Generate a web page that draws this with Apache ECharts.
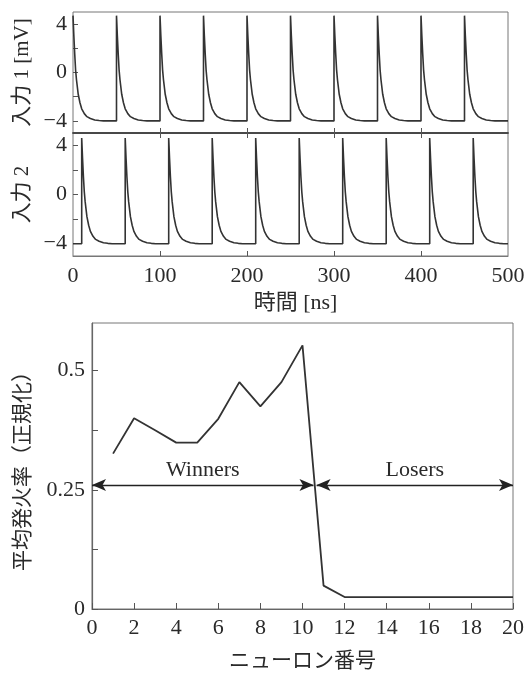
<!DOCTYPE html>
<html>
<head>
<meta charset="utf-8">
<script src="https://cdn.jsdelivr.net/npm/echarts@6/dist/echarts.min.js"></script>
<style>
  html, body { margin: 0; padding: 0; background: #fff; }
  #c1 { width: 529px; height: 673px; }
</style>
</head>
<body>
<div id="c1"></div>
<script>
// spike times [ns]
var spikes1 = [0, 50, 100, 150, 200, 250, 300, 350, 400, 450];
var spikes2 = [10, 60, 110, 160, 210, 260, 310, 360, 410, 460];
// shape of one decay after a spike (offset ns, mV)
var decayT = [0, 1, 2, 3, 4, 6, 8, 10, 13, 16, 20, 25, 30, 35];
var decay1 = [4.7, 3.0, 1.5, 0.2, -0.6, -1.8, -2.5, -3.0, -3.4, -3.65, -3.8, -3.92, -3.97, -4];
var decay2 = [4.6, 2.9, 1.4, 0.2, -0.6, -1.8, -2.5, -3.0, -3.4, -3.65, -3.8, -3.92, -3.97, -4];
var restLevel = -4;
var tEnd = 500;

// bottom chart
var neurons = [1, 2, 3, 4, 5, 6, 7, 8, 9, 10, 11, 12, 13, 14, 15, 16, 17, 18, 19, 20];
var rates = [0.326, 0.40, 0.375, 0.349, 0.349, 0.399, 0.476, 0.425, 0.476, 0.553,
             0.049, 0.025, 0.025, 0.025, 0.025, 0.025, 0.025, 0.025, 0.025, 0.025];
var arrowY = 0.26;
var winnersRange = [0, 10.52];
var losersRange = [10.67, 20];

var yTicksTop = [-4, -2, 0, 2, 4];
var yLabelsTop = [-4, 0, 4];
var xTicksTop = [100, 200, 300, 400];
var xLabelsTop = [0, 100, 200, 300, 400, 500];
var yTicksBottom = [0, 0.125, 0.25, 0.375, 0.5];
var yLabelsBottom = [0, 0.25, 0.5];

function buildTrace(spikes, shape) {
  var pts = [];
  if (spikes[0] > 0) pts.push([0, restLevel]);
  for (var i = 0; i < spikes.length; i++) {
    var s = spikes[i];
    if (s > 0) pts.push([s, restLevel]);
    for (var j = 0; j < decayT.length; j++) {
      pts.push([s + decayT[j], shape[j]]);
    }
  }
  pts.push([tEnd, restLevel]);
  return pts;
}

var FONT = '"Liberation Serif", "Noto Sans CJK JP", serif';
var TXT = '#2a2a2a';
var minusFmt = function (v) { return v < 0 ? '\u2212' + Math.abs(v) : String(v); };

var chartDom = document.getElementById('c1');
var myChart = echarts.init(chartDom);

var option = {
  animation: false,
  textStyle: { fontFamily: FONT, color: TXT },
  grid: [
    { left: 73, width: 435, top: 12, height: 121, show: true, borderColor: '#777', borderWidth: 1 },
    { left: 73, width: 435, top: 133, height: 123, show: true, borderColor: '#777', borderWidth: 1 },
    { left: 92, width: 421, top: 323, height: 299, show: true, borderColor: '#777', borderWidth: 1 }
  ],
  xAxis: [
    {
      gridIndex: 0, type: 'value', min: 0, max: 500,
      axisLine: { show: true, onZero: false, lineStyle: { color: '#444', width: 1.5 } },
      axisTick: { show: true, inside: true, length: 5, customValues: xTicksTop, lineStyle: { color: '#555' } },
      axisLabel: { show: false },
      splitLine: { show: false }
    },
    {
      gridIndex: 1, type: 'value', min: 0, max: 500,
      axisLine: { show: true, onZero: false, lineStyle: { color: '#777', width: 1 } },
      axisTick: { show: true, inside: true, length: 5, customValues: xTicksTop, lineStyle: { color: '#555' } },
      axisLabel: { show: true, customValues: xLabelsTop, fontSize: 22, fontFamily: FONT, color: TXT, margin: 9 },
      splitLine: { show: false },
      name: '時間 [ns]', nameLocation: 'middle', nameGap: 36,
      nameTextStyle: { fontSize: 22, fontFamily: FONT, color: TXT, padding: [0, 0, 0, 10] }
    },
    {
      gridIndex: 1, type: 'value', min: 0, max: 500, position: 'top',
      axisLine: { show: true, onZero: false, lineStyle: { color: '#444', width: 1.5 } },
      axisTick: { show: true, inside: true, length: 5, customValues: xTicksTop, lineStyle: { color: '#555' } },
      axisLabel: { show: false },
      splitLine: { show: false }
    },
    {
      gridIndex: 2, type: 'value', min: 0, max: 20, interval: 2,
      axisLine: { show: true, onZero: false, lineStyle: { color: '#666', width: 1.2 } },
      axisTick: { show: true, inside: true, length: 6, lineStyle: { color: '#555' } },
      axisLabel: { show: true, fontSize: 22, fontFamily: FONT, color: TXT, margin: 8 },
      splitLine: { show: false },
      name: 'ニューロン番号', nameLocation: 'middle', nameGap: 42,
      nameTextStyle: { fontSize: 21, fontFamily: FONT, color: TXT }
    }
  ],
  yAxis: [
    {
      gridIndex: 0, type: 'value', min: -5, max: 5,
      axisLine: { show: false, onZero: false },
      axisTick: { show: true, inside: true, length: 5, customValues: yTicksTop, lineStyle: { color: '#555' } },
      axisLabel: { show: true, customValues: yLabelsTop, formatter: minusFmt, fontSize: 22, fontFamily: FONT, color: TXT, margin: 6 },
      splitLine: { show: false },
      name: '入力 1 [mV]', nameLocation: 'middle', nameGap: 38,
      nameTextStyle: { fontSize: 21, fontFamily: FONT, color: TXT }
    },
    {
      gridIndex: 1, type: 'value', min: -5, max: 5,
      axisLine: { show: false, onZero: false },
      axisTick: { show: true, inside: true, length: 5, customValues: yTicksTop, lineStyle: { color: '#555' } },
      axisLabel: { show: true, customValues: yLabelsTop, formatter: minusFmt, fontSize: 22, fontFamily: FONT, color: TXT, margin: 6 },
      splitLine: { show: false },
      name: '入力 2', nameLocation: 'middle', nameGap: 38,
      nameTextStyle: { fontSize: 21, fontFamily: FONT, color: TXT }
    },
    {
      gridIndex: 2, type: 'value', min: 0, max: 0.6,
      axisLine: { show: true, onZero: false, lineStyle: { color: '#666', width: 1.2 } },
      axisTick: { show: true, inside: true, length: 6, customValues: yTicksBottom, lineStyle: { color: '#555' } },
      axisLabel: { show: true, customValues: yLabelsBottom, fontSize: 22, fontFamily: FONT, color: TXT, margin: 7 },
      splitLine: { show: false },
      name: '平均発火率（正規化）', nameLocation: 'middle', nameGap: 58,
      nameTextStyle: { fontSize: 21, fontFamily: FONT, color: TXT }
    }
  ],
  series: [
    {
      name: '入力 1', type: 'line', xAxisIndex: 0, yAxisIndex: 0,
      data: buildTrace(spikes1, decay1), showSymbol: false, symbol: 'none',
      lineStyle: { color: '#333', width: 1.6 }
    },
    {
      name: '入力 2', type: 'line', xAxisIndex: 1, yAxisIndex: 1,
      data: buildTrace(spikes2, decay2), showSymbol: false, symbol: 'none',
      lineStyle: { color: '#333', width: 1.6 }
    },
    {
      name: '平均発火率', type: 'line', xAxisIndex: 3, yAxisIndex: 2,
      data: neurons.map(function (n, i) { return [n, rates[i]]; }),
      showSymbol: false, symbol: 'none',
      lineStyle: { color: '#333', width: 1.8 },
      markLine: {
        silent: true,
        symbol: ['arrow', 'arrow'],
        symbolSize: [9, 14],
        lineStyle: { color: '#222', width: 1.3, type: 'solid' },
        label: {
          show: true, formatter: '{b}', position: 'insideMiddleTop', distance: 4,
          fontSize: 22, fontFamily: FONT, color: TXT
        },
        data: [
          [{ name: 'Winners', coord: [winnersRange[0], arrowY] }, { coord: [winnersRange[1], arrowY] }],
          [{ name: 'Losers', coord: [losersRange[0], arrowY] }, { coord: [losersRange[1], arrowY] }]
        ]
      }
    }
  ]
};
myChart.setOption(option);
</script>
</body>
</html>
